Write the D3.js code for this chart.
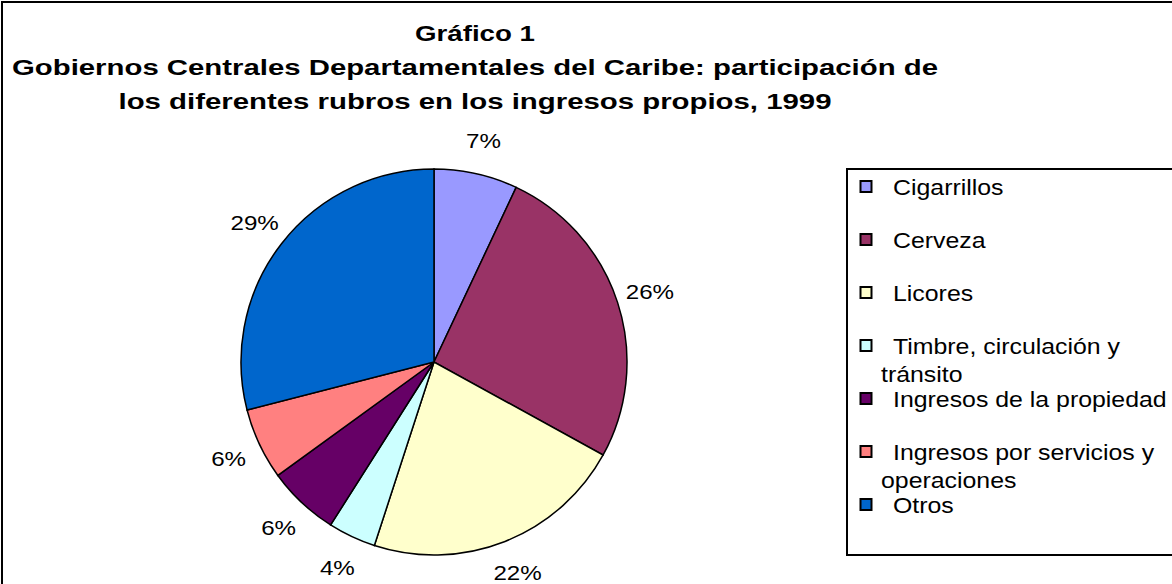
<!DOCTYPE html>
<html>
<head>
<meta charset="utf-8">
<script src="https://cdn.jsdelivr.net/npm/d3@7"></script>
<style>
  body { margin: 0; background: #fff; }
  text { font-family: "Liberation Sans", Arial, sans-serif; fill: #000; }
</style>
</head>
<body>
<div id="chart"></div>
<script>
// Data
var categories = ["Cigarrillos", "Cerveza", "Licores", "Timbre, circulación y tránsito",
                  "Ingresos de la propiedad", "Ingresos por servicios y operaciones", "Otros"];
var values     = [7, 26, 22, 4, 6, 6, 29];
var colors     = ["#9999FF", "#993366", "#FFFFCC", "#CCFFFF", "#660066", "#FF8080", "#0066CC"];
var titleLines = ["Gráfico 1",
                  "Gobiernos Centrales Departamentales del Caribe: participación de",
                  "los diferentes rubros en los ingresos propios, 1999"];
// legend labels wrap like the original
var legendLines = [["Cigarrillos"], ["Cerveza"], ["Licores"], ["Timbre, circulación y", "tránsito"],
                   ["Ingresos de la propiedad"], ["Ingresos por servicios y", "operaciones"], ["Otros"]];

//Width and height
var chart_width  = 1172;
var chart_height = 584;
var titleWidths  = [120, 926, 713];   // the title is drawn wide in the original

var svg = d3.select("#chart")
    .append("svg")
    .attr("width", chart_width)
    .attr("height", chart_height);

// outer frame
svg.append("rect")
    .attr("x", 2).attr("y", 2)
    .attr("width", 1250).attr("height", 650)
    .style("fill", "none").style("stroke", "#000").style("stroke-width", 2);

function widen(sel, k) {
    sel.each(function() {
        var w = this.getComputedTextLength();
        d3.select(this).attr("textLength", w * k).attr("lengthAdjust", "spacingAndGlyphs");
    });
}

// Title
svg.selectAll(".title")
    .data(titleLines)
    .enter()
    .append("text")
    .attr("class", "title")
    .attr("x", 475)
    .attr("y", (d, i) => 41 + i * 34)
    .attr("text-anchor", "middle")
    .attr("textLength", (d, i) => titleWidths[i])
    .attr("lengthAdjust", "spacingAndGlyphs")
    .style("font-weight", "bold")
    .style("font-size", "22px")
    .text(d => d);

// Pie
var cx = 434, cy = 362, r = 193;
var pie = d3.pie().sort(null).value(d => d)(values);
var arc = d3.arc().innerRadius(0).outerRadius(r);
var labelArc = d3.arc().innerRadius(r + 34).outerRadius(r + 34);
var total = d3.sum(values);

var g = svg.append("g").attr("transform", "translate(" + cx + "," + cy + ")");

g.selectAll("path")
    .data(pie)
    .enter()
    .append("path")
    .attr("d", arc)
    .style("fill", (d, i) => colors[i])
    .style("stroke", "#000")
    .style("stroke-width", 1.5);

var labels = g.selectAll(".lbl")
    .data(pie)
    .enter()
    .append("text")
    .attr("class", "lbl")
    .attr("x", d => labelArc.centroid(d)[0])
    .attr("y", d => labelArc.centroid(d)[1])
    .attr("dy", "0.35em")
    .attr("text-anchor", "middle")
    .style("font-size", "21px")
    .text(d => Math.round(d.value / total * 100) + "%");
widen(labels, 1.15);

// Legend
var legend = svg.append("g");
legend.append("rect")
    .attr("x", 847).attr("y", 169)
    .attr("width", 400).attr("height", 386)
    .style("fill", "#fff").style("stroke", "#000").style("stroke-width", 2);

var row = d3.scalePoint()
    .domain(d3.range(categories.length))
    .range([187, 505]);

var items = legend.selectAll(".item")
    .data(categories)
    .enter()
    .append("g")
    .attr("class", "item")
    .attr("transform", (d, i) => "translate(0," + row(i) + ")");

items.append("rect")
    .attr("x", 860.5).attr("y", -6)
    .attr("width", 11).attr("height", 11)
    .style("fill", (d, i) => colors[i])
    .style("stroke", "#000").style("stroke-width", 2);

var ltext = items.append("text")
    .attr("y", 8)
    .style("font-size", "22px");
ltext.selectAll("tspan")
    .data((d, i) => legendLines[i])
    .enter()
    .append("tspan")
    .attr("x", (d, j) => j === 0 ? 893 : 881)
    .attr("dy", (d, j) => j === 0 ? 0 : 28)
    .text(d => d);
ltext.selectAll("tspan").each(function() {
    var w = this.getComputedTextLength();
    d3.select(this).attr("textLength", w * 1.13).attr("lengthAdjust", "spacingAndGlyphs");
});
</script>
</body>
</html>
